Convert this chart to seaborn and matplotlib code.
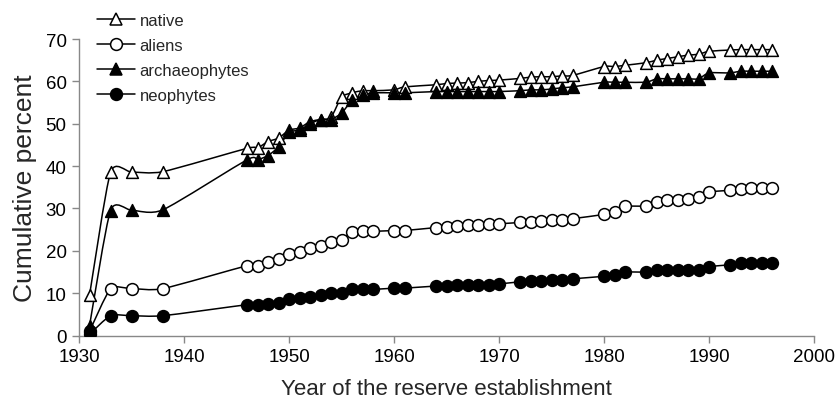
import numpy as np
import pandas as pd
import matplotlib
matplotlib.use("Agg")
import matplotlib.pyplot as plt
from matplotlib.path import Path
from matplotlib.patches import PathPatch
from matplotlib.lines import Line2D
import seaborn as sns

years = [1931, 1933, 1935, 1938,
         1946, 1947, 1948, 1949, 1950, 1951, 1952, 1953, 1954, 1955, 1956, 1957, 1958,
         1960, 1961,
         1964, 1965, 1966, 1967, 1968, 1969, 1970,
         1972, 1973, 1974, 1975, 1976, 1977,
         1980, 1981, 1982,
         1984, 1985, 1986, 1987, 1988, 1989, 1990,
         1992, 1993, 1994, 1995, 1996]

native = [9.5, 38.5, 38.6, 38.7,
          44.2, 44.3, 45.8, 46.6, 48.5, 49.0, 50.5, 51.0, 51.5, 56.3, 57.3, 57.8, 57.8,
          58.0, 58.7,
          59.2, 59.5, 59.6, 59.7, 60.0, 60.2, 60.3,
          60.7, 61.0, 61.1, 61.1, 61.3, 61.4,
          63.5, 63.5, 63.8,
          64.4, 65.0, 65.4, 65.8, 66.2, 66.4, 67.1,
          67.4, 67.5, 67.5, 67.5, 67.5]

aliens = [1.0, 11.0, 11.1, 11.1,
          16.5, 16.5, 17.4, 18.0, 19.3, 19.8, 20.6, 21.2, 22.1, 22.6, 24.5, 24.6, 24.6,
          24.8, 24.8,
          25.5, 25.7, 25.9, 26.0, 26.1, 26.4, 26.4,
          26.7, 26.9, 27.1, 27.2, 27.4, 27.6,
          28.6, 29.2, 30.5,
          30.6, 31.6, 31.9, 32.1, 32.3, 32.7, 33.9,
          34.3, 34.7, 34.9, 34.9, 34.9]

archaeophytes = [2.3, 29.5, 29.6, 29.7,
                 41.5, 41.5, 42.5, 44.5, 48.0, 48.5, 50.0, 51.0, 51.0, 52.5, 55.5, 56.8, 57.3,
                 57.3, 57.3,
                 57.6, 57.6, 57.6, 57.6, 57.6, 57.6, 57.6,
                 57.8, 58.0, 58.0, 58.2, 58.5, 58.7,
                 59.8, 59.8, 59.8,
                 59.8, 60.6, 60.6, 60.6, 60.6, 60.6, 62.0,
                 62.0, 62.4, 62.4, 62.4, 62.4]

neophytes = [0.3, 4.7, 4.7, 4.7,
             7.3, 7.3, 7.4, 7.6, 8.7, 8.9, 9.2, 9.6, 10.0, 10.0, 10.9, 10.9, 10.9,
             11.2, 11.2,
             11.7, 11.7, 11.9, 11.9, 12.0, 12.0, 12.2,
             12.7, 13.0, 13.0, 13.1, 13.2, 13.4,
             14.0, 14.3, 15.0,
             15.0, 15.4, 15.5, 15.5, 15.5, 15.6, 16.3,
             16.7, 17.1, 17.2, 17.2, 17.2]

series_names = ["native", "aliens", "archaeophytes", "neophytes"]
series_values = [native, aliens, archaeophytes, neophytes]
markers = {"native": "^", "aliens": "o", "archaeophytes": "^", "neophytes": "o"}
faces = {"native": "white", "aliens": "white", "archaeophytes": "black", "neophytes": "black"}

df = pd.concat([pd.DataFrame({"year": years, "value": v, "group": n})
                for n, v in zip(series_names, series_values)], ignore_index=True)

sns.set_style("white")
plt.rcParams["font.family"] = ["Liberation Sans", "DejaVu Sans"]

fig = plt.figure(figsize=(8.36, 4.10), dpi=100)
ax = fig.add_axes([0.0945, 0.179, 0.8792, 0.7234])


def smooth_path(xs, ys, k=0.11):
    pts = np.column_stack([xs, ys]).astype(float)
    n = len(pts)
    verts = [pts[0]]
    codes = [Path.MOVETO]
    for i in range(n - 1):
        p0 = pts[i - 1] if i > 0 else pts[i]
        p1 = pts[i]
        p2 = pts[i + 1]
        p3 = pts[i + 2] if i + 2 < n else pts[i + 1]
        c1 = p1 + (p2 - p0) * k
        c2 = p2 - (p3 - p1) * k
        verts += [c1, c2, p2]
        codes += [Path.CURVE4] * 3
    return Path(verts, codes)


for name in series_names:
    sub = df[df["group"] == name]
    patch = PathPatch(smooth_path(sub["year"].values, sub["value"].values),
                      fill=False, edgecolor="black", lw=1.1, zorder=2)
    ax.add_patch(patch)

for name in series_names:
    sub = df[df["group"] == name]
    sns.scatterplot(data=sub, x="year", y="value", ax=ax, marker=markers[name],
                    s=72, color=faces[name], edgecolor="black", linewidth=1.1,
                    zorder=3, legend=False)

ax.set_xlim(1930, 2000)
ax.set_ylim(0, 70)
ax.set_xticks(range(1930, 2001, 10))
ax.set_yticks(range(0, 71, 10))
for s in ["top", "right"]:
    ax.spines[s].set_visible(False)
for s in ["left", "bottom"]:
    ax.spines[s].set_color("#888888")
    ax.spines[s].set_linewidth(1.0)
ax.tick_params(axis="both", direction="out", length=5, width=1.0, color="#888888",
               labelsize=13.5, labelcolor="black", pad=4, bottom=True, left=True)
ax.set_xlabel("Year of the reserve establishment", fontsize=16, labelpad=9)
ax.set_ylabel("Cumulative percent", fontsize=19, labelpad=6)

handles = [Line2D([0], [0], color="black", lw=1.1, marker=markers[n], markersize=8.5,
                  markerfacecolor=faces[n], markeredgecolor="black", markeredgewidth=1.1)
           for n in series_names]
fig.legend(handles, series_names, loc="upper left", bbox_to_anchor=(0.104, 0.99),
           frameon=False, fontsize=12, handlelength=2.3, handletextpad=0.25,
           labelspacing=0.6, borderaxespad=0.2)

fig.savefig("out.png", dpi=100)
